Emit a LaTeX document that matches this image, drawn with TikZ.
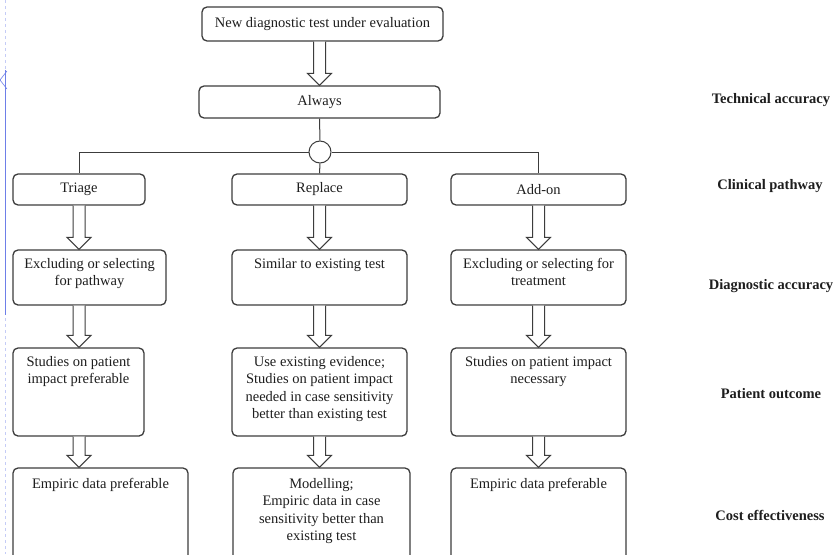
\documentclass[tikz,border=0pt]{standalone}
\usepackage{fontspec}
\setmainfont{Liberation Serif}
\usetikzlibrary{calc}
\definecolor{linegray}{HTML}{3C3C3C}
\definecolor{txt}{HTML}{1E1E1E}
\definecolor{edgeblue}{HTML}{6E7FE8}
\newcommand\hollowarr[3]{\draw[harrow] let \p1=(#1), \p2=(#2.south), \p3=(#3.north) in
  (\x1-6pt,\y2) -- (\x1-6pt,\y3+12pt) -- (\x1-12pt,\y3+12pt) -- (\x1,\y3) -- (\x1+12pt,\y3+12pt) -- (\x1+6pt,\y3+12pt) -- (\x1+6pt,\y2);}
\tikzset{
  box/.style={draw=linegray, line width=1.3pt, rounded corners=5pt, inner sep=0pt, text=txt,
    font=\fontsize{14.5}{17.5}\selectfont},
  boxtext/.style={anchor=north, inner sep=0pt, align=center, text=txt,
    font=\fontsize{14.5}{17.5}\selectfont},
  harrow/.style={draw=linegray, line width=1pt, fill=white, line join=miter},
  conn/.style={draw=linegray, line width=1pt},
  level/.style={text=txt, font=\fontsize{14.5}{17}\selectfont\bfseries, inner sep=0pt}
}
\begin{document}
\begin{tikzpicture}[x=1pt,y=-1pt]
\useasboundingbox (0,0) rectangle (835,554);
\clip (0,0) rectangle (835,554);
\fill[white] (0,0) rectangle (835,554);
% left edge artefact
\draw[edgeblue!40, dashed, line width=0.5pt] (5,0) -- (5,554);
\draw[edgeblue, line width=0.8pt] (5,70) -- (5,315);
\draw[edgeblue, line width=0.6pt] (7,71) -- (0,80) -- (7,89);
% top boxes
\node[box, minimum width=241, minimum height=34] (new) at (322.5,24) {New diagnostic test under evaluation};
\node[box, minimum width=241, minimum height=32] (always) at (319.5,102) {Always};
% clinical pathway row
\node[box, minimum width=132, minimum height=31] (triage) at (79,189.5) {Triage};
\node[box, minimum width=175, minimum height=31] (replace) at (319.5,189.5) {Replace};
\node[box, minimum width=175, minimum height=31] (addon) at (538.5,189.5) {Add-on};
% diagnostic accuracy row
\node[box, minimum width=153, minimum height=55] (exclpath) at (89.5,277.5) {};
\node[box, minimum width=175, minimum height=55] (similar) at (319.5,277.5) {};
\node[box, minimum width=175, minimum height=55] (excltreat) at (538.5,277.5) {};
% patient outcome row
\node[box, minimum width=131, minimum height=88] (stud1) at (78.5,392) {};
\node[box, minimum width=175, minimum height=88] (useex) at (319.5,392) {};
\node[box, minimum width=175, minimum height=88] (stud3) at (538.5,392) {};
% cost effectiveness row
\node[box, minimum width=175, minimum height=102] (emp1) at (100.5,519) {};
\node[box, minimum width=177, minimum height=102] (model) at (321.5,519) {};
\node[box, minimum width=175, minimum height=102] (emp3) at (538.5,519) {};
% texts
\node[boxtext, yshift=-8.5pt] (exclpath-t) at (exclpath.north) {Excluding or selecting\\for pathway};
\node[boxtext, yshift=-8.5pt] (similar-t) at (similar.north) {Similar to existing test};
\node[boxtext, yshift=-8.5pt] (excltreat-t) at (excltreat.north) {Excluding or selecting for\\treatment};
\node[boxtext, yshift=-8.5pt] (stud1-t) at (stud1.north) {Studies on patient\\impact preferable};
\node[boxtext, yshift=-8.5pt] (useex-t) at (useex.north) {Use existing evidence;\\Studies on patient impact\\needed in case sensitivity\\better than existing test};
\node[boxtext, yshift=-8.5pt] (stud3-t) at (stud3.north) {Studies on patient impact\\necessary};
\node[boxtext, yshift=-10.5pt] (emp1-t) at (emp1.north) {Empiric data preferable};
\node[boxtext, yshift=-10.5pt] (model-t) at (model.north) {Modelling;\\Empiric data in case\\sensitivity better than\\existing test};
\node[boxtext, yshift=-10.5pt] (emp3-t) at (emp3.north) {Empiric data preferable};
% branching
\node[draw=linegray, line width=1pt, circle, minimum size=22pt, inner sep=0pt, fill=white] (circ) at (320,152) {};
\coordinate (jl) at (79,152);
\coordinate (jr) at (538.5,152);
\draw[conn] (always.south) -- (circ.north);
\draw[conn] (circ.west) -- (jl) -- (triage.north);
\draw[conn] (circ.east) -- (jr) -- (addon.north);
\draw[conn] (circ.south) -- (replace.north);
% hollow arrows
\hollowarr{always}{new}{always}
\hollowarr{triage}{triage}{exclpath}
\hollowarr{replace}{replace}{similar}
\hollowarr{addon}{addon}{excltreat}
\hollowarr{triage}{exclpath}{stud1}
\hollowarr{replace}{similar}{useex}
\hollowarr{addon}{excltreat}{stud3}
\hollowarr{triage}{stud1}{emp1}
\hollowarr{replace}{useex}{model}
\hollowarr{addon}{stud3}{emp3}
% level labels
\node[level] (l1) at (771,100) {Technical accuracy};
\node[level] (l2) at (770,186) {Clinical pathway};
\node[level] (l3) at (771,286) {Diagnostic accuracy};
\node[level] (l4) at (771,394) {Patient outcome};
\node[level] (l5) at (770,515) {Cost effectiveness};
\end{tikzpicture}
\end{document}
